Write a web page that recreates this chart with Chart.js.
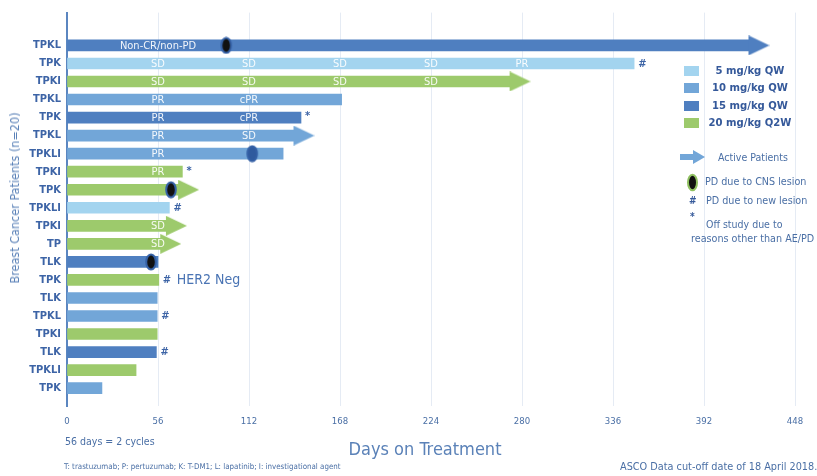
<!DOCTYPE html>
<html><head><meta charset="utf-8">
<script src="https://cdn.jsdelivr.net/npm/chart.js@4.4.1/dist/chart.umd.min.js"></script>
<style>
html,body{margin:0;padding:0;background:#fff;}
#wrap{position:relative;width:817px;height:476px;overflow:hidden;font-family:'Liberation Sans Narrow','DejaVu Sans Condensed','Open Sans',sans-serif;}
canvas{position:absolute;left:0;top:0;}
.t{position:absolute;white-space:nowrap;color:#4a6fa5;}
.box{position:absolute;width:15px;height:10px;}
.lt{position:absolute;left:700px;width:100px;text-align:center;font-size:11.2px;line-height:16px;font-weight:bold;color:#35599a;white-space:nowrap;}
</style></head><body>
<div id="wrap">
<canvas id="c" width="817" height="476"></canvas>

<div class="box" style="left:684px;top:66px;background:#a3d4ef"></div>
<div class="lt" style="top:63px">5 mg/kg QW</div>
<div class="box" style="left:684px;top:83px;background:#72a6d8"></div>
<div class="lt" style="top:80px">10 mg/kg QW</div>
<div class="box" style="left:684px;top:101px;background:#4f7fc0"></div>
<div class="lt" style="top:98px">15 mg/kg QW</div>
<div class="box" style="left:684px;top:118px;background:#9dca6c"></div>
<div class="lt" style="top:115px">20 mg/kg Q2W</div>

<svg style="position:absolute;left:680px;top:150px" width="26" height="14"><rect x="0" y="4" width="14" height="6" fill="#72a6d8"/><polygon points="13,0 25,7 13,14" fill="#72a6d8"/></svg>
<div class="t" style="left:718px;top:150px;font-size:10.5px;line-height:14px">Active Patients</div>

<svg style="position:absolute;left:686px;top:173px" width="13" height="19"><ellipse cx="6.5" cy="9.5" rx="4.5" ry="7.8" fill="#111" stroke="#8fc060" stroke-width="2"/></svg>
<div class="t" style="left:705px;top:175px;font-size:10.7px;line-height:14px">PD due to CNS lesion</div>
<div class="t" style="left:689px;top:194px;font-size:10px;line-height:14px;font-weight:bold;color:#35599a">#</div>
<div class="t" style="left:706px;top:194px;font-size:10.7px;line-height:14px">PD due to new lesion</div>
<div class="t" style="left:690px;top:210px;font-size:10px;line-height:14px;font-weight:bold;color:#35599a">*</div>
<div class="t" style="left:706px;top:217px;font-size:10.5px;line-height:14px">Off study due to</div>
<div class="t" style="left:691px;top:232px;font-size:10.7px;line-height:14px">reasons other than AE/PD</div>

<div class="t" style="left:15px;top:198px;font-size:12.5px;line-height:16px;color:#5b82b8;transform:translate(-50%,-50%) rotate(-90deg)">Breast Cancer Patients (n=20)</div>
<div class="t" style="left:65px;top:434px;font-size:10.5px;line-height:14px">56 days = 2 cycles</div>
<div class="t" style="left:325px;top:437px;width:200px;text-align:center;font-size:18px;line-height:24px;color:#5b82b8">Days on Treatment</div>
<div class="t" style="left:64px;top:461px;font-size:7.9px;line-height:12px">T: trastuzumab; P: pertuzumab; K: T-DM1; L: lapatinib; I: investigational agent</div>
<div class="t" style="left:620px;top:461px;font-size:10.8px;line-height:12px">ASCO Data cut-off date of 18 April 2018.</div>
</div>
<script>
const patients = ['TPKL','TPK','TPKI','TPKL','TPK','TPKL','TPKLI','TPKI','TPK','TPKLI','TPKI','TP','TLK','TPK','TLK','TPKL','TPKI','TLK','TPKLI','TPK'];
const doses = [15,5,20,10,15,10,10,20,20,5,20,20,15,20,10,10,20,15,20,10];
const days = [420,349,273,169,144,140,133,71,69,63,61.5,58,56,56.5,55.5,55.5,55.5,55,42.5,21.5];
const activeRows = [0,2,5,8,10,11];
const cnsRows = [0,6,8,12];
const cnsDays = [98,114,64,51.7];
const responses = [
  ['Non-CR/non-PD'],
  ['SD','SD','SD','SD','PR'],
  ['SD','SD','SD','SD'],
  ['PR','cPR'],
  ['PR','cPR'],
  ['PR','SD'],
  ['PR'],
  ['PR'],
  [],[],
  ['SD'],
  ['SD'],
  [],[],[],[],[],[],[],[]
];
const symbols = ['','#','','','*','','','*','','#','','','','#','','#','','#','',''];
const notes = ['','','','','','','','','','','','','','HER2 Neg','','','','','',''];
const xTicks = [0,56,112,168,224,280,336,392,448];

const doseColors = {5:'#a3d4ef',10:'#72a6d8',15:'#4f7fc0',20:'#9dca6c'};

function arrowImg(color){
  const c = document.createElement('canvas');
  c.width = 40; c.height = 20;
  const g = c.getContext('2d');
  g.fillStyle = color;
  g.beginPath(); g.moveTo(19,0); g.lineTo(40,10); g.lineTo(19,20); g.closePath(); g.fill();
  return c;
}
function dotImg(fill){
  const c = document.createElement('canvas');
  c.width = 14; c.height = 18;
  const g = c.getContext('2d');
  g.fillStyle = fill; g.strokeStyle = '#3561a6'; g.lineWidth = 2;
  g.beginPath(); g.ellipse(7,9,4.8,7.6,0,0,Math.PI*2); g.fill(); g.stroke();
  return c;
}
const arrows = {}; Object.keys(doseColors).forEach(k=>arrows[k]=arrowImg(doseColors[k]));
const dotBlack = dotImg('#111'), dotBlue = dotImg('#2f5a9e');

const FONT = "'Liberation Sans Narrow','DejaVu Sans Condensed','Open Sans',sans-serif";

const labelPlugin = {
  id: 'barLabels',
  afterDatasetsDraw(chart){
    const {ctx, scales:{x, y}} = chart;
    ctx.save();
    ctx.textBaseline = 'middle';
    ctx.textAlign = 'center';
    ctx.font = '11px ' + FONT;
    ctx.fillStyle = 'rgba(255,255,255,0.92)';
    responses.forEach((row, i) => row.forEach((txt, j) => {
      ctx.fillText(txt, x.getPixelForValue(xTicks[j+1]), y.getPixelForValue(i) + 0.5);
    }));
    ctx.textAlign = 'left';
    ctx.fillStyle = '#3d64a6';
    symbols.forEach((s, i) => {
      if (!s) return;
      ctx.font = 'bold 11px ' + FONT;
      const px = x.getPixelForValue(days[i]) + 4;
      const py = y.getPixelForValue(i) + (s === '*' ? -1 : 0.5);
      ctx.fillText(s, px, py);
      if (notes[i]) {
        ctx.font = '14px ' + FONT;
        ctx.fillStyle = '#4a74b4';
        ctx.fillText(notes[i], px + 14, py);
        ctx.fillStyle = '#3d64a6';
      }
    });
    ctx.restore();
  }
};

new Chart(document.getElementById('c'), {
  type: 'bar',
  data: {
    datasets: [
      {
        type: 'bar',
        order: 3,
        data: days.map((d, i) => ({x: d, y: i})),
        backgroundColor: doses.map(d => doseColors[d]),
        barThickness: 11,
        borderWidth: 0
      },
      {
        type: 'scatter',
        order: 2,
        data: activeRows.map(r => ({x: days[r], y: r})),
        pointStyle: ctx => arrows[doses[activeRows[ctx.dataIndex]]],
        pointRadius: 10
      },
      {
        type: 'scatter',
        order: 1,
        data: cnsRows.map((r, k) => ({x: cnsDays[k], y: r})),
        pointStyle: ctx => (cnsRows[ctx.dataIndex] === 6 ? dotBlue : dotBlack),
        pointRadius: 8
      }
    ]
  },
  options: {
    indexAxis: 'y',
    responsive: false,
    animation: false,
    devicePixelRatio: 1,
    layout: {padding: {top: 8, right: 22, bottom: 0, left: 0}},
    plugins: {legend: {display: false}, tooltip: {enabled: false}},
    scales: {
      x: {
        type: 'linear',
        position: 'bottom',
        min: 0, max: 448,
        afterFit(s){ s.height = 70; },
        ticks: {stepSize: 56, autoSkip: false, color: '#4a6fa5', font: {size: 9.5, family: FONT}, padding: 10},
        grid: {color: '#e5ebf4', lineWidth: 1, drawTicks: false},
        border: {display: false}
      },
      y: {
        type: 'linear',
        reverse: true,
        min: -1.3, max: 19.47,
        afterFit(s){ s.width = 67; },
        ticks: {
          stepSize: 1, autoSkip: false, includeBounds: false,
          callback: v => (Number.isInteger(v) && v >= 0 && v < patients.length) ? patients[v] : '',
          color: '#3d64a6', font: {size: 11, weight: 'bold', family: FONT}, padding: 6
        },
        grid: {display: false, drawTicks: false},
        border: {display: true, color: '#5b86c0', width: 2}
      }
    }
  },
  plugins: [labelPlugin]
});
</script>
</body></html>
